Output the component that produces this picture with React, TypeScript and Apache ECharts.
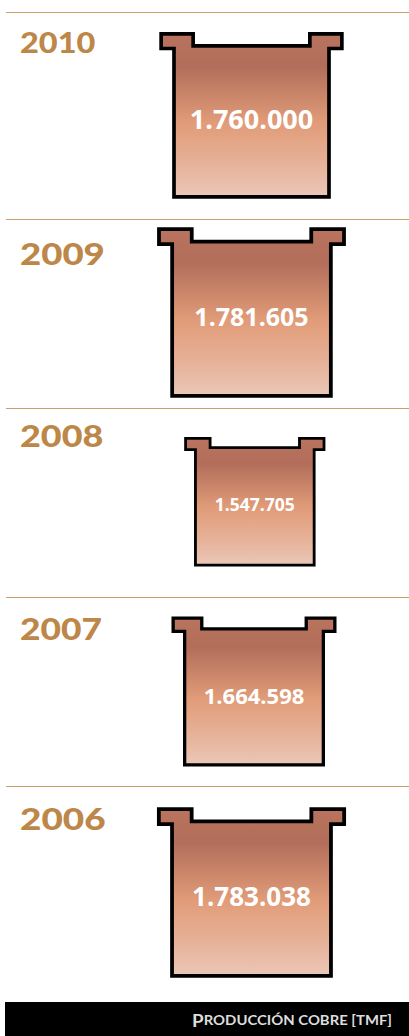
import React, { useEffect, useRef } from "react";
import * as echarts from "echarts";

const years = ["2010", "2009", "2008", "2007", "2006"];
const production = [1760000, 1781605, 1547705, 1664598, 1783038];
const labels = ["1.760.000", "1.781.605", "1.547.705", "1.664.598", "1.783.038"];
const footerFirst = "P";
const footerRest = "RODUCCIÓN COBRE [TMF]";

// layout only
const W = 409;
const H = 1036;
const UNITS_PER_PX = 5850;
const AXIS_MIN = 853250;
const ruleY = [12, 219, 408, 597, 786];
const yearMid = [42.5, 253, 435, 628, 818];
const yearSize = [29, 31, 31, 31, 31];
const yearScaleX = [1.12, 1.18, 1.16, 1.14, 1.19];
const centerX = [251.5, 251.5, 254.8, 254, 251.5];
const shapeMid = [115.3, 312.5, 501.7, 691.5, 892.5];
const labelSize = [27, 25, 17.5, 22, 26];

const App = () => {
  const ref = useRef<HTMLDivElement>(null);
  useEffect(() => {
    document.body.style.margin = "0";
    const chart = echarts.init(ref.current!, undefined, { renderer: "svg" });
    const gradient = new echarts.graphic.LinearGradient(0, 0, 0, 1, [
      { offset: 0, color: "#B9735F" },
      { offset: 0.2, color: "#B26E5A" },
      { offset: 0.55, color: "#E19C79" },
      { offset: 0.8, color: "#E6B299" },
      { offset: 1, color: "#EBC7B8" },
    ]);
    chart.setOption({
      animation: false,
      grid: { left: 0, right: 0, top: 0, bottom: 0 },
      xAxis: { type: "value", min: AXIS_MIN, max: AXIS_MIN + W * UNITS_PER_PX, show: false },
      yAxis: { type: "value", min: 0, max: H, inverse: true, show: false },
      graphic: [
        ...ruleY.map((y) => ({
          type: "line",
          shape: { x1: 6, y1: y + 0.5, x2: W, y2: y + 0.5 },
          style: { stroke: "#C99F6B", lineWidth: 1 },
        })),
        ...years.map((t, i) => ({
          type: "text",
          x: 20,
          y: yearMid[i],
          scaleX: yearScaleX[i],
          style: {
            text: t,
            fill: "#BC8748",
            font: `900 ${yearSize[i]}px Lato, "Open Sans", sans-serif`,
            verticalAlign: "middle",
          },
        })),
        { type: "rect", shape: { x: 5, y: 1002, width: W - 5, height: 34 }, style: { fill: "#000" } },
        {
          type: "text",
          x: 392,
          y: 1020,
          scaleX: 1.1,
          style: {
            text: `{a|${footerFirst}}{b|${footerRest}}`,
            align: "right",
            verticalAlign: "middle",
            rich: {
              a: { fill: "#ddd", fontFamily: "Lato", fontWeight: 700, fontSize: 17 },
              b: { fill: "#ddd", fontFamily: "Lato", fontWeight: 700, fontSize: 13.5 },
            },
          },
        },
      ],
      series: [
        {
          type: "custom",
          coordinateSystem: "cartesian2d",
          data: production.map((v, i) => [v, i]),
          encode: { x: 0 },
          clip: false,
          renderItem: (params: any, api: any) => {
            const i = api.value(1);
            const w = api.size([api.value(0) - AXIS_MIN, 0])[0];
            const h = w + 8;
            const sw = w * 0.0238;
            const fw = w * 1.166;
            const nw = w * 0.753;
            const depth = w * 0.078;
            const thick = w * 0.095;
            const cx = centerX[i];
            const top = shapeMid[i] - h / 2;
            const bot = top + h;
            const points = [
              [cx - fw / 2, top],
              [cx - nw / 2, top],
              [cx - nw / 2, top + depth],
              [cx + nw / 2, top + depth],
              [cx + nw / 2, top],
              [cx + fw / 2, top],
              [cx + fw / 2, top + thick],
              [cx + w / 2, top + thick],
              [cx + w / 2, bot],
              [cx - w / 2, bot],
              [cx - w / 2, top + thick],
              [cx - fw / 2, top + thick],
            ];
            return {
              type: "group",
              children: [
                {
                  type: "polygon",
                  shape: { points },
                  style: { fill: gradient, stroke: "#000", lineWidth: sw, lineJoin: "miter" },
                },
                {
                  type: "text",
                  x: cx,
                  y: top + h * 0.522,
                  style: {
                    text: labels[i],
                    fill: "#fff",
                    font: `700 ${labelSize[i]}px "Open Sans", sans-serif`,
                    align: "center",
                    verticalAlign: "middle",
                  },
                },
              ],
            };
          },
        },
      ],
    });
    return () => chart.dispose();
  }, []);
  return <div ref={ref} style={{ width: W, height: H }} />;
};

export default App;
